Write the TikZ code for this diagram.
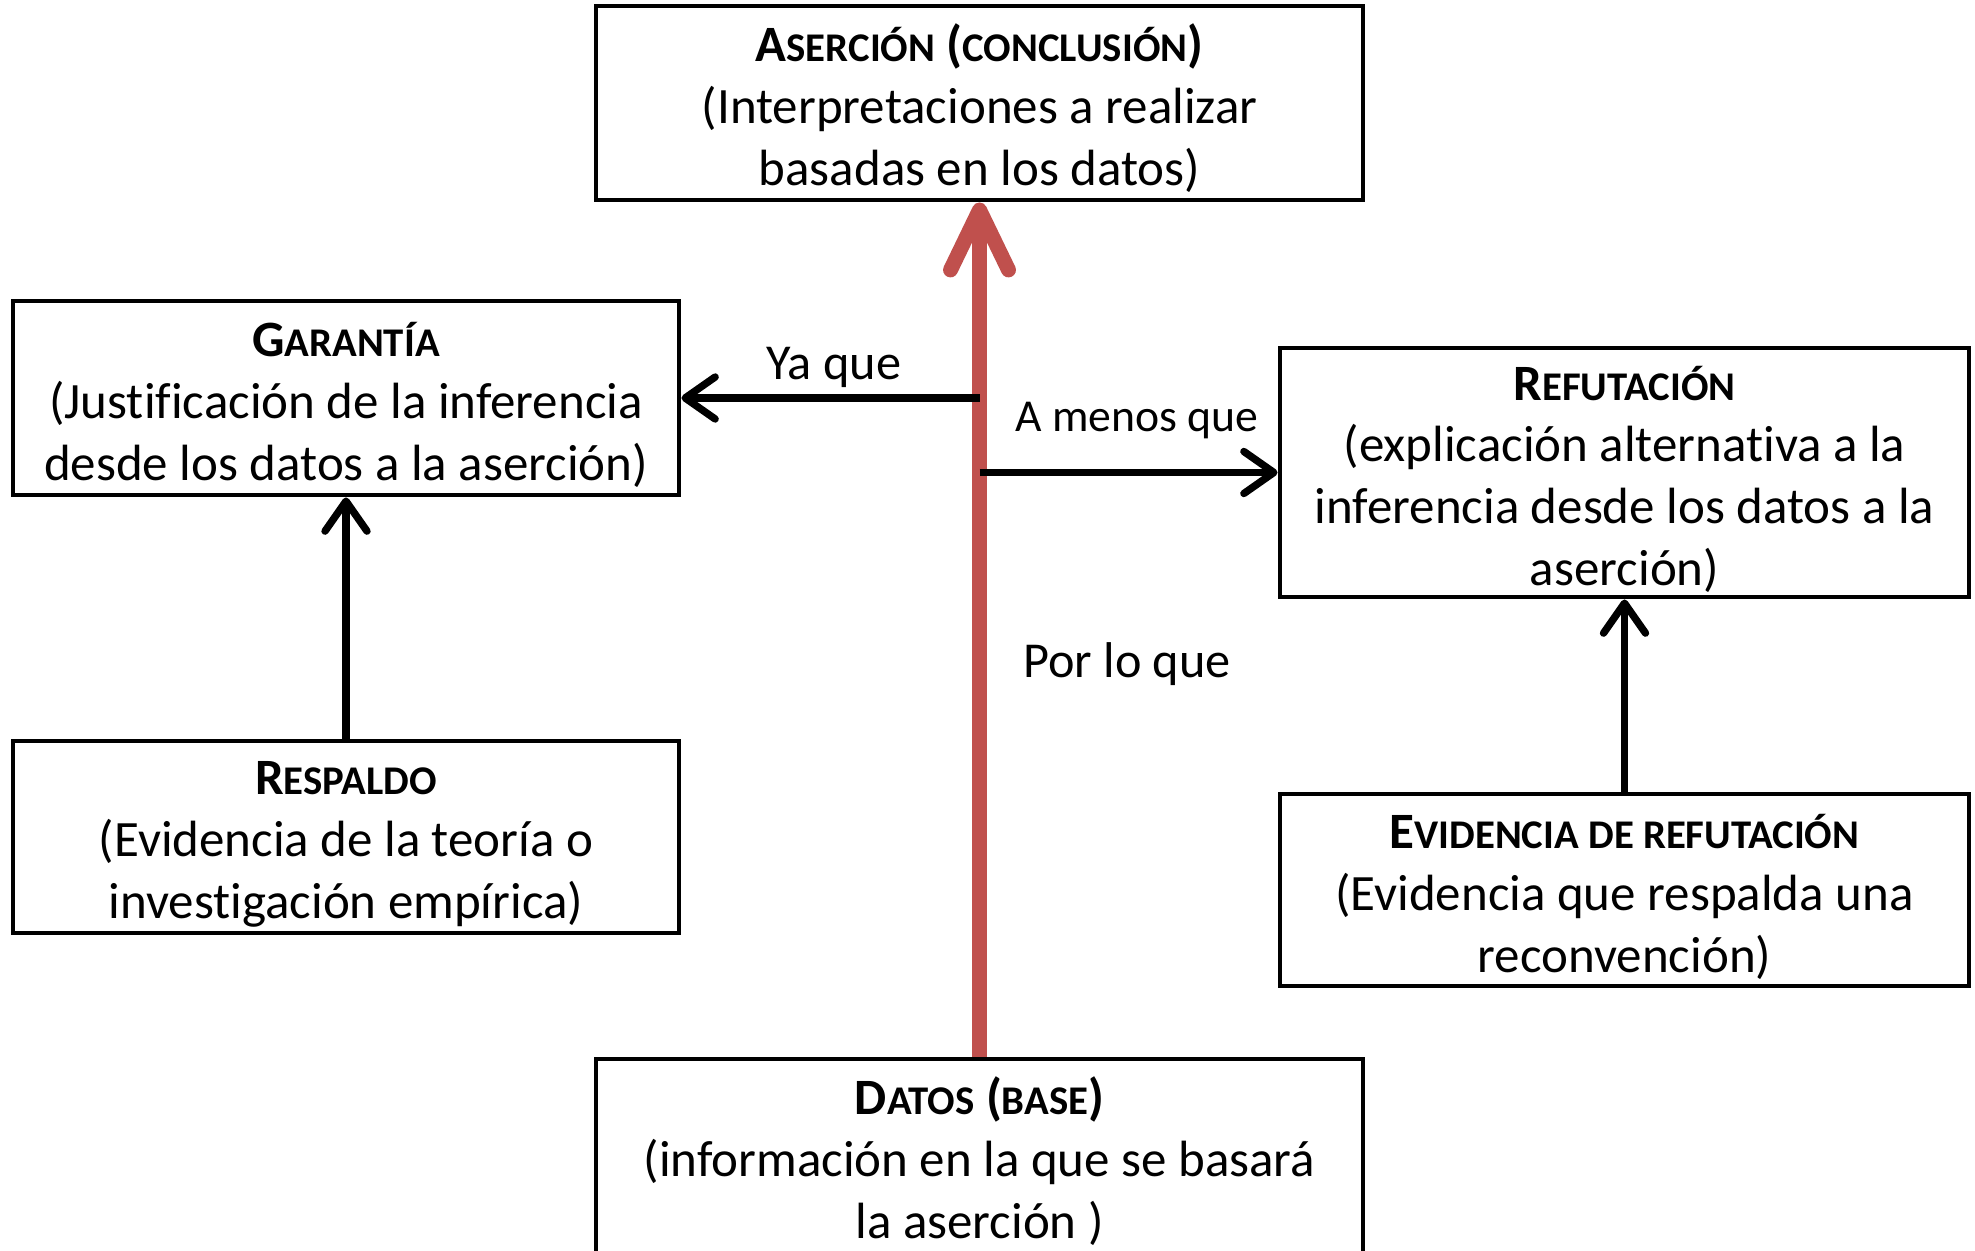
\documentclass[tikz,border=0pt]{standalone}
\usepackage{fontspec}
\setmainfont{Carlito}[Ligatures={NoCommon,NoRare,NoContextual}]
\usetikzlibrary{arrows.meta,positioning}
\definecolor{toulRed}{HTML}{C0504D}
\newcommand{\pc}[1]{{\fontsize{11.6pt}{17.6pt}\selectfont #1}}
\newcommand{\titulo}[1]{\rule{0pt}{13.6pt}\textbf{#1}}

\begin{document}
\begin{tikzpicture}[
        caja/.style={draw, line width=1.4pt, inner sep=0pt, align=center, font=\fontsize{14.5pt}{17.6pt}\selectfont},
        flecha/.style={line width=2.1pt, -{Straight Barb[length=3mm,width=4.2mm,round]}},
        roja/.style={draw=toulRed, line width=4.25pt, -{Straight Barb[length=6mm,width=5.8mm,round]}},
        rotulo/.style={inner sep=0pt, font=\fontsize{14.3pt}{17.2pt}\selectfont}
    ]
            \useasboundingbox (0,0) rectangle (19.75,-12.5);

            \node[caja, minimum width=7.67cm, minimum height=1.94cm] (1) at (9.795,-1.03) {\titulo{A\pc{SERCIÓN} (\pc{CONCLUSIÓN})}\\(Interpretaciones a realizar\\basadas en los datos)};
            \node[caja, minimum width=7.67cm, minimum height=1.94cm] (6) [below of = 1, node distance = 10.53cm] {\titulo{D\pc{ATOS} (\pc{BASE})}\\(información en la que se basará\\la aserción )};

            \node[caja, minimum width=6.66cm, minimum height=1.94cm] (2) at (3.46,-3.98) {\titulo{G\pc{ARANTÍA}}\\(Justif\kern0ptica\kern0ptción de la inferencia\\desde los datos a la aserción)};
            \node[caja, minimum width=6.66cm, minimum height=1.92cm] (3) [below of = 2, node distance = 4.39cm] {\titulo{R\pc{ESPALDO}}\\(Evidencia de la teoría o\\invest\kern0ptiga\kern0ptción empírica)};

            \node[caja, minimum width=6.89cm, minimum height=2.49cm] (4) at (16.245,-4.725) {\titulo{R\pc{EFUTACIÓN}}\\(explicación alternat\kern0ptiva a la\\inferencia desde los datos a la\\aserción)};
            \node[caja, minimum width=6.89cm, minimum height=1.92cm] (5) [below of = 4, node distance = 4.175cm] {\titulo{E\pc{VIDENCIA DE REFUTACIÓN}}\\(Evidencia que respalda una\\reconvención)};

            \node[rotulo] (y) at (8.34,-3.67) {Ya que};
            \node[rotulo, font=\fontsize{13pt}{16pt}\selectfont] (m) at (11.37,-4.21) {A menos que};
            \node[rotulo] (p) at (11.27,-6.64) {Por lo que};

            \coordinate (a) at (1.south |- 2.east);
            \coordinate (b) at (1.south |- 4.west);

            \path
                (6) edge[roja] (1)

                (a) edge[flecha] (2.east)
                (b) edge[flecha] (4.west)

                (3) edge[flecha] (2)
                (5) edge[flecha] (4)
            ;
        \end{tikzpicture}
\end{document}
